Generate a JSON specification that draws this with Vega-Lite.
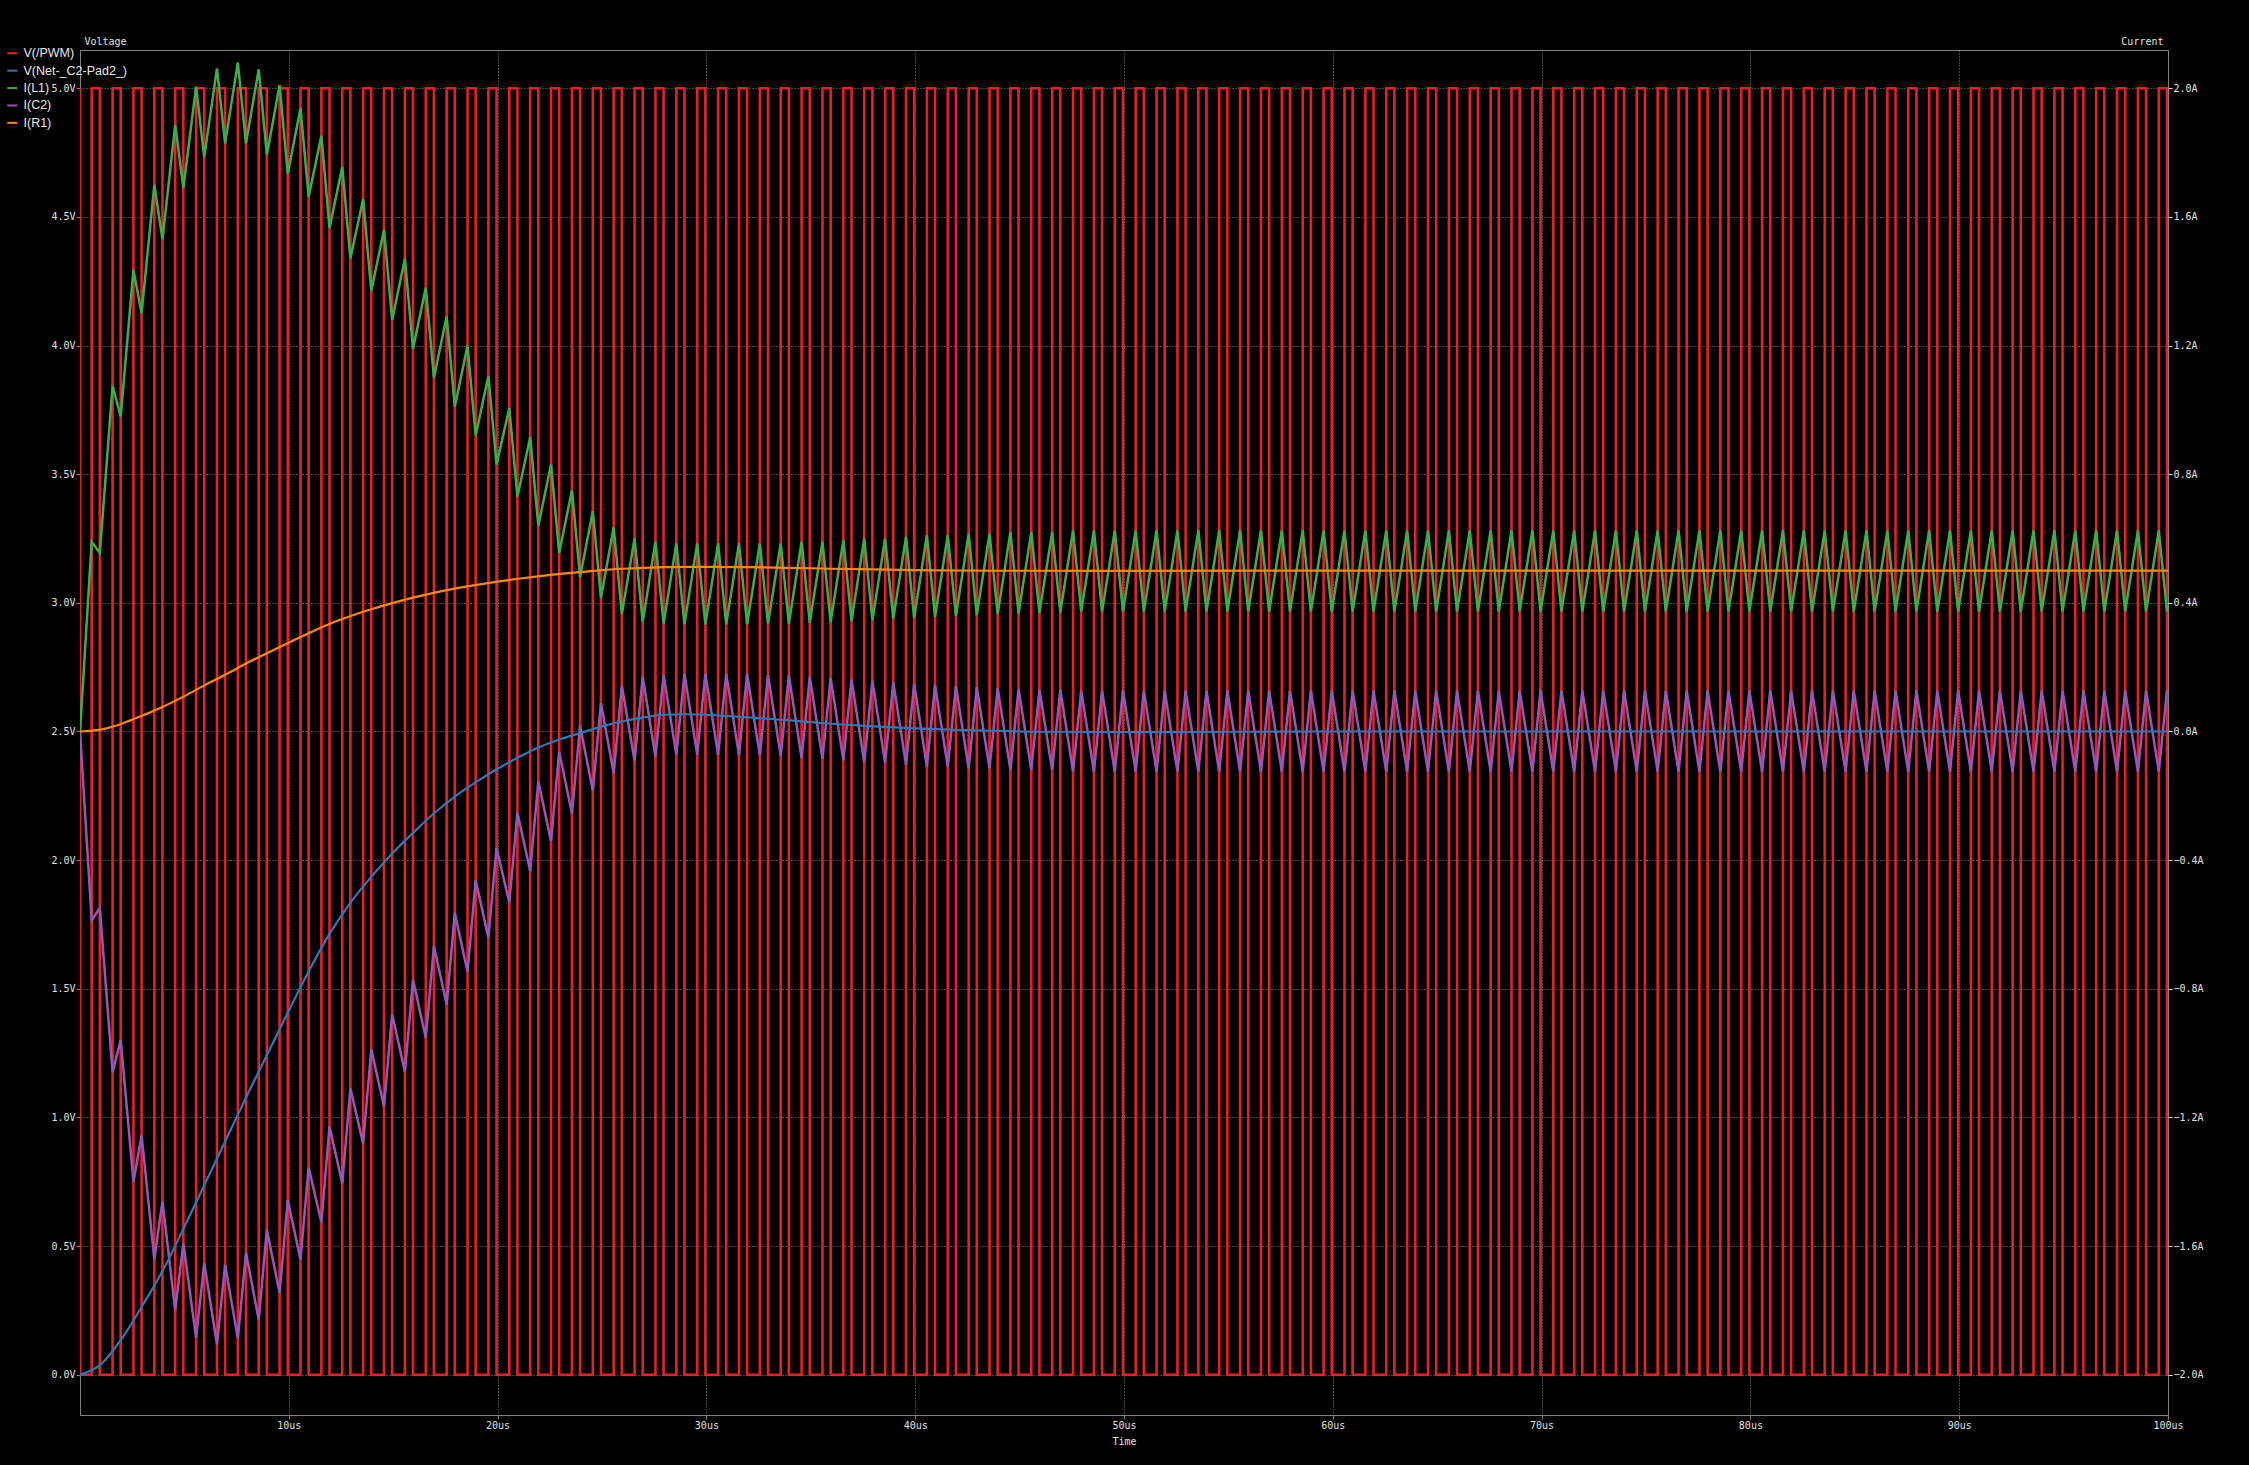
{
"$schema": "https://vega.github.io/schema/vega-lite/v6.json",
"width": 2088, "height": 1365,
"autosize": "none",
"padding": {"left": 80, "top": 50, "right": 81, "bottom": 50},
"background": "#000000",
"config": {
 "view": {"stroke": "#808080", "strokeWidth": 1},
 "axis": {"labelFont": "DejaVu Sans Mono", "labelFontSize": 10, "labelColor": "#e0e0e0", "titleFont": "DejaVu Sans Mono", "titleFontSize": 10, "titleFontWeight": "normal", "titleColor": "#e0e0e0", "domainColor": "#808080", "tickColor": "#808080", "gridColor": "#8a8a8a", "gridDash": [1, 2], "gridOpacity": 1, "tickSize": 4, "labelPadding": 1},
 "legend": {"orient": "none", "legendX": -74, "legendY": -3, "title": null, "labelFont": "Liberation Sans", "labelFontSize": 12.5, "labelColor": "#e8e8e8", "symbolType": "stroke", "symbolStrokeWidth": 2, "symbolSize": 100, "rowPadding": 4.4, "labelOffset": 5, "padding": 0}
},
"datasets": {
 "pwm": [{"t":0,"v":5},{"t":0,"v":0},
{"t":0.56,"v":5},{"t":0.95,"v":0},{"t":1.56,"v":5},{"t":1.95,"v":0},{"t":2.56,"v":5},{"t":2.95,"v":0},{"t":3.56,"v":5},{"t":3.95,"v":0},{"t":4.56,"v":5},{"t":4.95,"v":0},{"t":5.56,"v":5},{"t":5.95,"v":0},{"t":6.56,"v":5},{"t":6.95,"v":0},{"t":7.56,"v":5},{"t":7.95,"v":0},{"t":8.56,"v":5},{"t":8.95,"v":0},{"t":9.56,"v":5},{"t":9.95,"v":0},
{"t":10.56,"v":5},{"t":10.95,"v":0},{"t":11.56,"v":5},{"t":11.95,"v":0},{"t":12.56,"v":5},{"t":12.95,"v":0},{"t":13.56,"v":5},{"t":13.95,"v":0},{"t":14.56,"v":5},{"t":14.95,"v":0},{"t":15.56,"v":5},{"t":15.95,"v":0},{"t":16.56,"v":5},{"t":16.95,"v":0},{"t":17.56,"v":5},{"t":17.95,"v":0},{"t":18.56,"v":5},{"t":18.95,"v":0},{"t":19.56,"v":5},{"t":19.95,"v":0},
{"t":20.56,"v":5},{"t":20.95,"v":0},{"t":21.56,"v":5},{"t":21.95,"v":0},{"t":22.56,"v":5},{"t":22.95,"v":0},{"t":23.56,"v":5},{"t":23.95,"v":0},{"t":24.56,"v":5},{"t":24.95,"v":0},{"t":25.56,"v":5},{"t":25.95,"v":0},{"t":26.56,"v":5},{"t":26.95,"v":0},{"t":27.56,"v":5},{"t":27.95,"v":0},{"t":28.56,"v":5},{"t":28.95,"v":0},{"t":29.56,"v":5},{"t":29.95,"v":0},
{"t":30.56,"v":5},{"t":30.95,"v":0},{"t":31.56,"v":5},{"t":31.95,"v":0},{"t":32.56,"v":5},{"t":32.95,"v":0},{"t":33.56,"v":5},{"t":33.95,"v":0},{"t":34.56,"v":5},{"t":34.95,"v":0},{"t":35.56,"v":5},{"t":35.95,"v":0},{"t":36.56,"v":5},{"t":36.95,"v":0},{"t":37.56,"v":5},{"t":37.95,"v":0},{"t":38.56,"v":5},{"t":38.95,"v":0},{"t":39.56,"v":5},{"t":39.95,"v":0},
{"t":40.56,"v":5},{"t":40.95,"v":0},{"t":41.56,"v":5},{"t":41.95,"v":0},{"t":42.56,"v":5},{"t":42.95,"v":0},{"t":43.56,"v":5},{"t":43.95,"v":0},{"t":44.56,"v":5},{"t":44.95,"v":0},{"t":45.56,"v":5},{"t":45.95,"v":0},{"t":46.56,"v":5},{"t":46.95,"v":0},{"t":47.56,"v":5},{"t":47.95,"v":0},{"t":48.56,"v":5},{"t":48.95,"v":0},{"t":49.56,"v":5},{"t":49.95,"v":0},
{"t":50.56,"v":5},{"t":50.95,"v":0},{"t":51.56,"v":5},{"t":51.95,"v":0},{"t":52.56,"v":5},{"t":52.95,"v":0},{"t":53.56,"v":5},{"t":53.95,"v":0},{"t":54.56,"v":5},{"t":54.95,"v":0},{"t":55.56,"v":5},{"t":55.95,"v":0},{"t":56.56,"v":5},{"t":56.95,"v":0},{"t":57.56,"v":5},{"t":57.95,"v":0},{"t":58.56,"v":5},{"t":58.95,"v":0},{"t":59.56,"v":5},{"t":59.95,"v":0},
{"t":60.56,"v":5},{"t":60.95,"v":0},{"t":61.56,"v":5},{"t":61.95,"v":0},{"t":62.56,"v":5},{"t":62.95,"v":0},{"t":63.56,"v":5},{"t":63.95,"v":0},{"t":64.56,"v":5},{"t":64.95,"v":0},{"t":65.56,"v":5},{"t":65.95,"v":0},{"t":66.56,"v":5},{"t":66.95,"v":0},{"t":67.56,"v":5},{"t":67.95,"v":0},{"t":68.56,"v":5},{"t":68.95,"v":0},{"t":69.56,"v":5},{"t":69.95,"v":0},
{"t":70.56,"v":5},{"t":70.95,"v":0},{"t":71.56,"v":5},{"t":71.95,"v":0},{"t":72.56,"v":5},{"t":72.95,"v":0},{"t":73.56,"v":5},{"t":73.95,"v":0},{"t":74.56,"v":5},{"t":74.95,"v":0},{"t":75.56,"v":5},{"t":75.95,"v":0},{"t":76.56,"v":5},{"t":76.95,"v":0},{"t":77.56,"v":5},{"t":77.95,"v":0},{"t":78.56,"v":5},{"t":78.95,"v":0},{"t":79.56,"v":5},{"t":79.95,"v":0},
{"t":80.56,"v":5},{"t":80.95,"v":0},{"t":81.56,"v":5},{"t":81.95,"v":0},{"t":82.56,"v":5},{"t":82.95,"v":0},{"t":83.56,"v":5},{"t":83.95,"v":0},{"t":84.56,"v":5},{"t":84.95,"v":0},{"t":85.56,"v":5},{"t":85.95,"v":0},{"t":86.56,"v":5},{"t":86.95,"v":0},{"t":87.56,"v":5},{"t":87.95,"v":0},{"t":88.56,"v":5},{"t":88.95,"v":0},{"t":89.56,"v":5},{"t":89.95,"v":0},
{"t":90.56,"v":5},{"t":90.95,"v":0},{"t":91.56,"v":5},{"t":91.95,"v":0},{"t":92.56,"v":5},{"t":92.95,"v":0},{"t":93.56,"v":5},{"t":93.95,"v":0},{"t":94.56,"v":5},{"t":94.95,"v":0},{"t":95.56,"v":5},{"t":95.95,"v":0},{"t":96.56,"v":5},{"t":96.95,"v":0},{"t":97.56,"v":5},{"t":97.95,"v":0},{"t":98.56,"v":5},{"t":98.95,"v":0},{"t":99.56,"v":5},{"t":99.95,"v":0},{"t":100,"v":0}],
 "vout": [{"t":0,"v":0},{"t":1,"v":0.04},{"t":2,"v":0.14},{"t":3,"v":0.27},{"t":4,"v":0.41},{"t":5,"v":0.575},{"t":6,"v":0.745},{"t":7,"v":0.915},{"t":8,"v":1.085},{"t":9,"v":1.25},{"t":10,"v":1.415},{"t":11,"v":1.575},{"t":12,"v":1.72},{"t":13,"v":1.84},{"t":14,"v":1.94},{"t":15,"v":2.03},{"t":16,"v":2.11},{"t":17,"v":2.185},{"t":18,"v":2.25},{"t":19,"v":2.305},{"t":20,"v":2.355},{"t":21,"v":2.4},{"t":22,"v":2.44},{"t":23,"v":2.47},{"t":24,"v":2.495},{"t":25,"v":2.52},{"t":26,"v":2.54},{"t":27,"v":2.555},{"t":28,"v":2.565},{"t":29,"v":2.567},{"t":30,"v":2.565},{"t":31,"v":2.56},{"t":32,"v":2.555},{"t":34,"v":2.543},{"t":36,"v":2.53},{"t":38,"v":2.52},{"t":40,"v":2.512},{"t":42,"v":2.506},{"t":44,"v":2.502},{"t":46,"v":2.499},{"t":50,"v":2.498},{"t":55,"v":2.499},{"t":60,"v":2.5},{"t":100,"v":2.5}],
 "il": [{"t":0,"a":0},
{"t":0.56,"a":0.59},{"t":0.95,"a":0.555},{"t":1.56,"a":1.075},{"t":1.95,"a":0.98},{"t":2.56,"a":1.435},{"t":2.95,"a":1.3},{"t":3.56,"a":1.7},{"t":3.95,"a":1.53},{"t":4.56,"a":1.886},{"t":4.95,"a":1.69},{"t":5.56,"a":2.005},{"t":5.95,"a":1.786},{"t":6.56,"a":2.062},{"t":6.95,"a":1.829},{"t":7.56,"a":2.08},{"t":7.95,"a":1.829},{"t":8.56,"a":2.059},{"t":8.95,"a":1.793},{"t":9.56,"a":2.01},{"t":9.95,"a":1.734},
{"t":10.56,"a":1.938},{"t":10.95,"a":1.663},{"t":11.56,"a":1.852},{"t":11.95,"a":1.565},{"t":12.56,"a":1.756},{"t":12.95,"a":1.471},{"t":13.56,"a":1.655},{"t":13.95,"a":1.37},{"t":14.56,"a":1.56},{"t":14.95,"a":1.28},{"t":15.56,"a":1.47},{"t":15.95,"a":1.19},{"t":16.56,"a":1.38},{"t":16.95,"a":1.1},{"t":17.56,"a":1.29},{"t":17.95,"a":1.01},{"t":18.56,"a":1.2},{"t":18.95,"a":0.92},{"t":19.56,"a":1.105},{"t":19.95,"a":0.83},
{"t":20.56,"a":1.005},{"t":20.95,"a":0.73},{"t":21.56,"a":0.915},{"t":21.95,"a":0.64},{"t":22.56,"a":0.83},{"t":22.95,"a":0.555},{"t":23.56,"a":0.75},{"t":23.95,"a":0.48},{"t":24.56,"a":0.685},{"t":24.95,"a":0.415},{"t":25.56,"a":0.635},{"t":25.95,"a":0.365},{"t":26.56,"a":0.6},{"t":26.95,"a":0.34},{"t":27.56,"a":0.59},{"t":27.95,"a":0.335},{"t":28.56,"a":0.585},{"t":28.95,"a":0.333},{"t":29.56,"a":0.585},{"t":29.95,"a":0.333},
{"t":30.56,"a":0.585},{"t":30.95,"a":0.333},{"t":31.56,"a":0.585},{"t":31.95,"a":0.333},{"t":32.56,"a":0.585},{"t":32.95,"a":0.335},{"t":33.56,"a":0.585},{"t":33.95,"a":0.335},{"t":34.56,"a":0.59},{"t":34.95,"a":0.338},{"t":35.56,"a":0.59},{"t":35.95,"a":0.34},{"t":36.56,"a":0.595},{"t":36.95,"a":0.343},{"t":37.56,"a":0.6},{"t":37.95,"a":0.346},{"t":38.56,"a":0.6},{"t":38.95,"a":0.35},{"t":39.56,"a":0.605},{"t":39.95,"a":0.353},
{"t":40.56,"a":0.61},{"t":40.95,"a":0.356},{"t":41.56,"a":0.61},{"t":41.95,"a":0.359},{"t":42.56,"a":0.615},{"t":42.95,"a":0.362},{"t":43.56,"a":0.615},{"t":43.95,"a":0.365},{"t":44.56,"a":0.62},{"t":44.95,"a":0.367},{"t":45.56,"a":0.62},{"t":45.95,"a":0.369},{"t":46.56,"a":0.62},{"t":46.95,"a":0.37},{"t":47.56,"a":0.625},{"t":47.95,"a":0.373},{"t":48.56,"a":0.625},{"t":48.95,"a":0.373},{"t":49.56,"a":0.625},{"t":49.95,"a":0.373},
{"t":50.56,"a":0.625},{"t":50.95,"a":0.373},{"t":51.56,"a":0.625},{"t":51.95,"a":0.373},{"t":52.56,"a":0.625},{"t":52.95,"a":0.373},{"t":53.56,"a":0.625},{"t":53.95,"a":0.373},{"t":54.56,"a":0.625},{"t":54.95,"a":0.373},{"t":55.56,"a":0.625},{"t":55.95,"a":0.373},{"t":56.56,"a":0.625},{"t":56.95,"a":0.373},{"t":57.56,"a":0.625},{"t":57.95,"a":0.373},{"t":58.56,"a":0.625},{"t":58.95,"a":0.373},{"t":59.56,"a":0.625},{"t":59.95,"a":0.373},
{"t":60.56,"a":0.625},{"t":60.95,"a":0.373},{"t":61.56,"a":0.625},{"t":61.95,"a":0.373},{"t":62.56,"a":0.625},{"t":62.95,"a":0.373},{"t":63.56,"a":0.625},{"t":63.95,"a":0.373},{"t":64.56,"a":0.625},{"t":64.95,"a":0.373},{"t":65.56,"a":0.625},{"t":65.95,"a":0.373},{"t":66.56,"a":0.625},{"t":66.95,"a":0.373},{"t":67.56,"a":0.625},{"t":67.95,"a":0.373},{"t":68.56,"a":0.625},{"t":68.95,"a":0.373},{"t":69.56,"a":0.625},{"t":69.95,"a":0.373},
{"t":70.56,"a":0.625},{"t":70.95,"a":0.373},{"t":71.56,"a":0.625},{"t":71.95,"a":0.373},{"t":72.56,"a":0.625},{"t":72.95,"a":0.373},{"t":73.56,"a":0.625},{"t":73.95,"a":0.373},{"t":74.56,"a":0.625},{"t":74.95,"a":0.373},{"t":75.56,"a":0.625},{"t":75.95,"a":0.373},{"t":76.56,"a":0.625},{"t":76.95,"a":0.373},{"t":77.56,"a":0.625},{"t":77.95,"a":0.373},{"t":78.56,"a":0.625},{"t":78.95,"a":0.373},{"t":79.56,"a":0.625},{"t":79.95,"a":0.373},
{"t":80.56,"a":0.625},{"t":80.95,"a":0.373},{"t":81.56,"a":0.625},{"t":81.95,"a":0.373},{"t":82.56,"a":0.625},{"t":82.95,"a":0.373},{"t":83.56,"a":0.625},{"t":83.95,"a":0.373},{"t":84.56,"a":0.625},{"t":84.95,"a":0.373},{"t":85.56,"a":0.625},{"t":85.95,"a":0.373},{"t":86.56,"a":0.625},{"t":86.95,"a":0.373},{"t":87.56,"a":0.625},{"t":87.95,"a":0.373},{"t":88.56,"a":0.625},{"t":88.95,"a":0.373},{"t":89.56,"a":0.625},{"t":89.95,"a":0.373},
{"t":90.56,"a":0.625},{"t":90.95,"a":0.373},{"t":91.56,"a":0.625},{"t":91.95,"a":0.373},{"t":92.56,"a":0.625},{"t":92.95,"a":0.373},{"t":93.56,"a":0.625},{"t":93.95,"a":0.373},{"t":94.56,"a":0.625},{"t":94.95,"a":0.373},{"t":95.56,"a":0.625},{"t":95.95,"a":0.373},{"t":96.56,"a":0.625},{"t":96.95,"a":0.373},{"t":97.56,"a":0.625},{"t":97.95,"a":0.373},{"t":98.56,"a":0.625},{"t":98.95,"a":0.373},{"t":99.56,"a":0.625},{"t":99.95,"a":0.373}],
 "ic": [{"t":0,"a":0},
{"t":0.56,"a":-0.587},{"t":0.95,"a":-0.549},{"t":1.56,"a":-1.06},{"t":1.95,"a":-0.959},{"t":2.56,"a":-1.4},{"t":2.95,"a":-1.256},{"t":3.56,"a":-1.641},{"t":3.95,"a":-1.461},{"t":4.56,"a":-1.799},{"t":4.95,"a":-1.592},{"t":5.56,"a":-1.885},{"t":5.95,"a":-1.653},{"t":6.56,"a":-1.906},{"t":6.95,"a":-1.659},{"t":7.56,"a":-1.887},{"t":7.95,"a":-1.621},{"t":8.56,"a":-1.829},{"t":8.95,"a":-1.549},{"t":9.56,"a":-1.746},{"t":9.95,"a":-1.457},
{"t":10.56,"a":-1.642},{"t":10.95,"a":-1.355},{"t":11.56,"a":-1.526},{"t":11.95,"a":-1.228},{"t":12.56,"a":-1.405},{"t":12.95,"a":-1.11},{"t":13.56,"a":-1.281},{"t":13.95,"a":-0.988},{"t":14.56,"a":-1.166},{"t":14.95,"a":-0.879},{"t":15.56,"a":-1.058},{"t":15.95,"a":-0.772},{"t":16.56,"a":-0.953},{"t":16.95,"a":-0.667},{"t":17.56,"a":-0.849},{"t":17.95,"a":-0.564},{"t":18.56,"a":-0.747},{"t":18.95,"a":-0.463},{"t":19.56,"a":-0.641},{"t":19.95,"a":-0.362},
{"t":20.56,"a":-0.532},{"t":20.95,"a":-0.253},{"t":21.56,"a":-0.434},{"t":21.95,"a":-0.155},{"t":22.56,"a":-0.341},{"t":22.95,"a":-0.063},{"t":23.56,"a":-0.255},{"t":23.95,"a":0.018},{"t":24.56,"a":-0.184},{"t":24.95,"a":0.088},{"t":25.56,"a":-0.13},{"t":25.95,"a":0.142},{"t":26.56,"a":-0.091},{"t":26.95,"a":0.17},{"t":27.56,"a":-0.079},{"t":27.95,"a":0.176},{"t":28.56,"a":-0.0725},{"t":28.95,"a":0.18},{"t":29.56,"a":-0.072},{"t":29.95,"a":0.18},
{"t":30.56,"a":-0.0725},{"t":30.95,"a":0.18},{"t":31.56,"a":-0.0735},{"t":31.95,"a":0.178},{"t":32.56,"a":-0.0745},{"t":32.95,"a":0.1755},{"t":33.56,"a":-0.076},{"t":33.95,"a":0.174},{"t":34.56,"a":-0.0825},{"t":34.95,"a":0.17},{"t":35.56,"a":-0.084},{"t":35.95,"a":0.166},{"t":36.56,"a":-0.09},{"t":36.95,"a":0.162},{"t":37.56,"a":-0.0965},{"t":37.95,"a":0.158},{"t":38.56,"a":-0.0975},{"t":38.95,"a":0.153},{"t":39.56,"a":-0.1035},{"t":39.95,"a":0.149},
{"t":40.56,"a":-0.109},{"t":40.95,"a":0.145},{"t":41.56,"a":-0.11},{"t":41.95,"a":0.142},{"t":42.56,"a":-0.115},{"t":42.95,"a":0.138},{"t":43.56,"a":-0.115},{"t":43.95,"a":0.135},{"t":44.56,"a":-0.12},{"t":44.95,"a":0.1325},{"t":45.56,"a":-0.12},{"t":45.95,"a":0.1305},{"t":46.56,"a":-0.12},{"t":46.95,"a":0.13},{"t":47.56,"a":-0.125},{"t":47.95,"a":0.127},{"t":48.56,"a":-0.125},{"t":48.95,"a":0.127},{"t":49.56,"a":-0.125},{"t":49.95,"a":0.127},
{"t":50.56,"a":-0.125},{"t":50.95,"a":0.127},{"t":51.56,"a":-0.125},{"t":51.95,"a":0.127},{"t":52.56,"a":-0.125},{"t":52.95,"a":0.127},{"t":53.56,"a":-0.125},{"t":53.95,"a":0.127},{"t":54.56,"a":-0.125},{"t":54.95,"a":0.127},{"t":55.56,"a":-0.125},{"t":55.95,"a":0.127},{"t":56.56,"a":-0.125},{"t":56.95,"a":0.127},{"t":57.56,"a":-0.125},{"t":57.95,"a":0.127},{"t":58.56,"a":-0.125},{"t":58.95,"a":0.127},{"t":59.56,"a":-0.125},{"t":59.95,"a":0.127},
{"t":60.56,"a":-0.125},{"t":60.95,"a":0.127},{"t":61.56,"a":-0.125},{"t":61.95,"a":0.127},{"t":62.56,"a":-0.125},{"t":62.95,"a":0.127},{"t":63.56,"a":-0.125},{"t":63.95,"a":0.127},{"t":64.56,"a":-0.125},{"t":64.95,"a":0.127},{"t":65.56,"a":-0.125},{"t":65.95,"a":0.127},{"t":66.56,"a":-0.125},{"t":66.95,"a":0.127},{"t":67.56,"a":-0.125},{"t":67.95,"a":0.127},{"t":68.56,"a":-0.125},{"t":68.95,"a":0.127},{"t":69.56,"a":-0.125},{"t":69.95,"a":0.127},
{"t":70.56,"a":-0.125},{"t":70.95,"a":0.127},{"t":71.56,"a":-0.125},{"t":71.95,"a":0.127},{"t":72.56,"a":-0.125},{"t":72.95,"a":0.127},{"t":73.56,"a":-0.125},{"t":73.95,"a":0.127},{"t":74.56,"a":-0.125},{"t":74.95,"a":0.127},{"t":75.56,"a":-0.125},{"t":75.95,"a":0.127},{"t":76.56,"a":-0.125},{"t":76.95,"a":0.127},{"t":77.56,"a":-0.125},{"t":77.95,"a":0.127},{"t":78.56,"a":-0.125},{"t":78.95,"a":0.127},{"t":79.56,"a":-0.125},{"t":79.95,"a":0.127},
{"t":80.56,"a":-0.125},{"t":80.95,"a":0.127},{"t":81.56,"a":-0.125},{"t":81.95,"a":0.127},{"t":82.56,"a":-0.125},{"t":82.95,"a":0.127},{"t":83.56,"a":-0.125},{"t":83.95,"a":0.127},{"t":84.56,"a":-0.125},{"t":84.95,"a":0.127},{"t":85.56,"a":-0.125},{"t":85.95,"a":0.127},{"t":86.56,"a":-0.125},{"t":86.95,"a":0.127},{"t":87.56,"a":-0.125},{"t":87.95,"a":0.127},{"t":88.56,"a":-0.125},{"t":88.95,"a":0.127},{"t":89.56,"a":-0.125},{"t":89.95,"a":0.127},
{"t":90.56,"a":-0.125},{"t":90.95,"a":0.127},{"t":91.56,"a":-0.125},{"t":91.95,"a":0.127},{"t":92.56,"a":-0.125},{"t":92.95,"a":0.127},{"t":93.56,"a":-0.125},{"t":93.95,"a":0.127},{"t":94.56,"a":-0.125},{"t":94.95,"a":0.127},{"t":95.56,"a":-0.125},{"t":95.95,"a":0.127},{"t":96.56,"a":-0.125},{"t":96.95,"a":0.127},{"t":97.56,"a":-0.125},{"t":97.95,"a":0.127},{"t":98.56,"a":-0.125},{"t":98.95,"a":0.127},{"t":99.56,"a":-0.125},{"t":99.95,"a":0.127}],
 "ir": [{"t":0,"a":0},{"t":1,"a":0.006},{"t":2,"a":0.024},{"t":3,"a":0.05},{"t":4,"a":0.078},{"t":5,"a":0.11},{"t":6,"a":0.145},{"t":7,"a":0.178},{"t":8,"a":0.213},{"t":9,"a":0.245},{"t":10,"a":0.276},{"t":11,"a":0.307},{"t":12,"a":0.336},{"t":13,"a":0.36},{"t":14,"a":0.381},{"t":15,"a":0.4},{"t":16,"a":0.417},{"t":17,"a":0.432},{"t":18,"a":0.445},{"t":19,"a":0.456},{"t":20,"a":0.466},{"t":21,"a":0.475},{"t":22,"a":0.483},{"t":23,"a":0.49},{"t":24,"a":0.496},{"t":25,"a":0.502},{"t":26,"a":0.506},{"t":27,"a":0.509},{"t":28,"a":0.511},{"t":29,"a":0.512},{"t":30,"a":0.512},{"t":32,"a":0.511},{"t":34,"a":0.509},{"t":36,"a":0.506},{"t":38,"a":0.504},{"t":40,"a":0.502},{"t":42,"a":0.5005},{"t":44,"a":0.4998},{"t":50,"a":0.4997},{"t":60,"a":0.5},{"t":100,"a":0.5}]
},
"encoding": {
 "x": {"field": "t", "type": "quantitative", "scale": {"domain": [0, 100], "nice": false, "zero": false},
  "axis": {"values": [10, 20, 30, 40, 50, 60, 70, 80, 90, 100], "labelExpr": "datum.value + 'us'", "title": "Time", "grid": true, "titlePadding": 6, "labelFlush": false}}
},
"layer": [
 {"data": {"name": "pwm"}, "mark": {"type": "line", "strokeWidth": 2.6, "interpolate": "step-after", "clip": true},
  "encoding": {
   "y": {"field": "v", "type": "quantitative", "scale": {"domain": [-0.1566, 5.1488], "nice": false, "zero": false},
    "axis": {"orient": "left", "values": [0, 0.5, 1, 1.5, 2, 2.5, 3, 3.5, 4, 4.5, 5], "labelExpr": "format(datum.value, '.1f') + 'V'", "title": "Voltage", "titleAngle": 0, "titleAlign": "left", "titleBaseline": "alphabetic", "titleX": 4, "titleY": -6, "grid": true}},
   "color": {"datum": "V(/PWM)", "type": "nominal", "scale": {"domain": ["V(/PWM)", "V(Net-_C2-Pad2_)", "I(L1)", "I(C2)", "I(R1)"], "range": ["#ee1c24", "#2b7bba", "#41ad49", "#9b55b5", "#ff8a00"]}},
   "order": {"value": null}
  }},
 {"data": {"name": "il"}, "mark": {"type": "line", "strokeWidth": 2.5, "clip": true},
  "encoding": {
   "y": {"field": "a", "type": "quantitative", "scale": {"domain": [-2.1253, 2.119], "nice": false, "zero": false},
    "axis": {"orient": "right", "values": [-2, -1.6, -1.2, -0.8, -0.4, 0, 0.4, 0.8, 1.2, 1.6, 2], "labelExpr": "format(datum.value, '.1f') + 'A'", "title": "Current", "titleAngle": 0, "titleAlign": "right", "titleBaseline": "alphabetic", "titleX": -5, "titleY": -6, "grid": false, "domainDash": [1, 2], "tickColor": "#e0e0e0"}},
   "color": {"datum": "I(L1)", "type": "nominal"}
  }},
 {"data": {"name": "ic"}, "mark": {"type": "line", "strokeWidth": 2.5, "clip": true},
  "encoding": {
   "y": {"field": "a", "type": "quantitative", "scale": {"domain": [-2.1253, 2.119], "nice": false, "zero": false}, "axis": null},
   "color": {"datum": "I(C2)", "type": "nominal"}
  }},
 {"data": {"name": "vout"}, "mark": {"type": "line", "strokeWidth": 2.2, "interpolate": "monotone", "clip": true},
  "encoding": {
   "y": {"field": "v", "type": "quantitative", "scale": {"domain": [-0.1566, 5.1488], "nice": false, "zero": false}, "axis": null},
   "color": {"datum": "V(Net-_C2-Pad2_)", "type": "nominal"}
  }},
 {"data": {"name": "ir"}, "mark": {"type": "line", "strokeWidth": 2.2, "interpolate": "monotone", "clip": true},
  "encoding": {
   "y": {"field": "a", "type": "quantitative", "scale": {"domain": [-2.1253, 2.119], "nice": false, "zero": false}, "axis": null},
   "color": {"datum": "I(R1)", "type": "nominal"}
  }}
],
"resolve": {"scale": {"y": "independent"}}
}
